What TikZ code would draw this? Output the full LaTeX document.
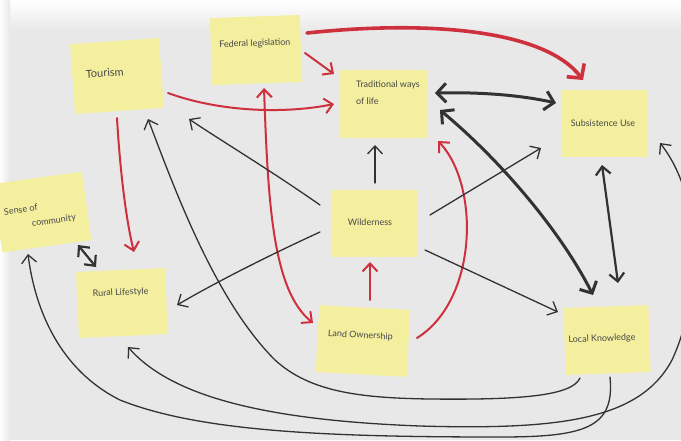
\documentclass[tikz,border=0pt]{standalone}
\usepackage{fontspec}
\setmainfont{Lato}
\usetikzlibrary{arrows.meta,calc}
\definecolor{paper}{RGB}{232,232,232}
\definecolor{noteY}{RGB}{243,239,158}
\definecolor{penR}{RGB}{206,48,62}
\definecolor{penK}{RGB}{50,50,50}
\definecolor{ink}{RGB}{72,72,72}
\newcommand{\notetext}[3]{\makebox[0pt]{\hspace*{#1}\raisebox{#2}[0pt][0pt]{#3}}}
\tikzset{
  note/.style={fill=noteY, inner sep=0pt, text=ink, font=\fontsize{9}{11}\selectfont},
  pen/.style={line cap=round, line join=round},
  redpen/.style={pen, draw=penR, line width=2pt},
  blkpen/.style={pen, draw=penK, line width=1.3pt},
  fatpen/.style={pen, draw=penK, line width=3pt},
  onehead/.style={arrows={-Straight Barb[length=8pt,width=15pt]}},
  tailhead/.style={arrows={Straight Barb[length=8pt,width=15pt]-}},
  bihead/.style={arrows={Straight Barb[length=8pt,width=15pt]-Straight Barb[length=8pt,width=15pt]}},
  bigbihead/.style={arrows={Straight Barb[length=9pt,width=19pt]-Straight Barb[length=9pt,width=19pt]}},
  bighead/.style={arrows={-Straight Barb[length=10pt,width=22pt]}}
}
\begin{document}
\begin{tikzpicture}[x=1pt,y=-1pt]
\useasboundingbox (0,0) rectangle (681,440);
\clip (0,0) rectangle (681,440);
\fill[paper] (0,0) rectangle (681,440);
\shade[top color=white, bottom color=paper] (0,0) rectangle (681,32);
\shade[left color=white, right color=paper] (0,0) rectangle (10,440);

% sticky notes
\node[note, minimum width=89pt, minimum height=70pt, rotate=4, font=\fontsize{11}{13}\selectfont] (tour) at (117,76) {\notetext{-24pt}{0pt}{Tourism}};
\node[note, minimum width=90pt, minimum height=67pt, rotate=2] (fed) at (256,50) {\notetext{-2pt}{3.8pt}{Federal legislation}};
\node[note, minimum width=88pt, minimum height=68pt] (trad) at (384,104) {\notetext{8pt}{8pt}{\begin{tabular}{@{}l@{}}Traditional ways\\[6pt]of life\end{tabular}}};
\node[note, minimum width=86pt, minimum height=67pt] (subs) at (605,123) {\notetext{-4pt}{-3.2pt}{Subsistence Use}};
\node[note, minimum width=90pt, minimum height=69pt, rotate=8] (sense) at (42,212) {\notetext{-5pt}{-5.5pt}{\begin{tabular}{@{}l@{}}Sense of\\[4pt]\hspace*{26pt}community\end{tabular}}};
\node[note, minimum width=86pt, minimum height=67pt] (wild) at (375,223) {\notetext{-10pt}{-2.2pt}{Wilderness}};
\node[note, minimum width=89pt, minimum height=66pt, rotate=2.5] (rural) at (122,303) {\notetext{-2pt}{7.8pt}{Rural Lifestyle}};
\node[note, minimum width=91pt, minimum height=67pt, rotate=-3] (land) at (363,341) {\notetext{-6pt}{2.8pt}{Land Ownership}};
\node[note, minimum width=85pt, minimum height=67pt, rotate=2] (local) at (607,340) {\notetext{-10pt}{-1.2pt}{Local Knowledge}};

% red arrows
\draw[redpen, line width=3.6pt, bighead] ($(fed)+(51,-17)$) .. controls (430,20) and (545,30) .. ($(subs)+(-22,-43)$);
\draw[redpen, onehead] ($(fed)+(49,3)$) -- ($(trad)+(-50,-30)$);
\draw[redpen, onehead] ($(tour)+(51,17)$) .. controls (220,112) and (285,114) .. ($(trad)+(-50,0)$);
\draw[redpen, onehead] ($(tour)+(0,42)$) .. controls (120,170) and (126,220) .. ($(rural)+(12,-51)$);
\draw[redpen, bihead] ($(fed)+(8,38)$) .. controls (268,200) and (272,290) .. ($(land)+(-50,-18)$);
\draw[redpen, onehead] ($(land)+(54,-3)$) .. controls (478,300) and (480,185) .. ($(trad)+(54,37)$);
\draw[redpen, onehead] ($(land)+(7,-41)$) -- ($(wild)+(-5,39)$);

% black arrows
\draw[fatpen, bigbihead] ($(trad)+(51,-11)$) .. controls (480,92) and (520,95) .. ($(subs)+(-49,-20)$);
\draw[fatpen, bigbihead] ($(trad)+(56,6)$) .. controls (500,160) and (560,230) .. ($(local)+(-14,-45)$);
\draw[blkpen, line width=2.2pt, bihead] ($(subs)+(-3,42)$) -- ($(local)+(11,-57)$);
\draw[blkpen, onehead] ($(wild)+(0,-40)$) -- ($(trad)+(-9,41)$);
\draw[blkpen, onehead] ($(wild)+(-55,-18)$) .. controls (270,170) and (220,140) .. ($(tour)+(72,43)$);
\draw[blkpen, onehead] ($(wild)+(55,-8)$) -- ($(subs)+(-64,25)$);
\draw[blkpen, onehead] ($(wild)+(-55,9)$) .. controls (270,255) and (220,280) .. ($(rural)+(55,2)$);
\draw[blkpen, onehead] ($(wild)+(50,27)$) -- ($(local)+(-49,-28)$);
\draw[blkpen, line width=2.2pt, bihead] ($(sense)+(36,33)$) -- ($(rural)+(-26,-36)$);

% long curves along the bottom
\draw[blkpen, tailhead] ($(tour)+(31,43)$) .. controls (175,190) and (215,300) .. (275,360) .. controls (310,392) and (360,398) .. (430,399) .. controls (520,400) and (572,396) .. ($(local)+(-27,38)$);
\draw[blkpen, tailhead] ($(sense)+(-14,42)$) .. controls (35,310) and (60,370) .. (120,400) .. controls (200,432) and (330,437) .. (500,437) .. controls (585,437) and (615,428) .. ($(local)+(3,37)$);
\draw[blkpen, bihead] ($(rural)+(6,44)$) .. controls (170,395) and (260,420) .. (420,426) .. controls (560,430) and (640,420) .. (672,360) .. controls (700,300) and (705,200) .. ($(subs)+(55,20)$);
\end{tikzpicture}
\end{document}
